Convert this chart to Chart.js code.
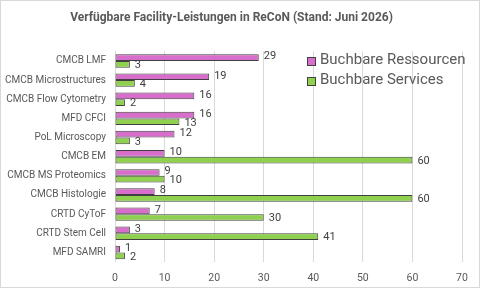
<!DOCTYPE html>
<html>
<head>
<meta charset="utf-8">
<script src="https://cdn.jsdelivr.net/npm/chart.js@4"></script>
<style>
  html, body { margin: 0; padding: 0; background: #fff; }
  #wrap { width: 478px; height: 286px; border: 1px solid #d9d9d9; position: relative; }
</style>
</head>
<body>
<div id="wrap"><canvas id="grafico" width="478" height="286"></canvas></div>
<script>
// Datos del grafico
const kategorien = ["CMCB LMF", "CMCB Microstructures", "CMCB Flow Cytometry", "MFD CFCI", "PoL Microscopy",
  "CMCB EM", "CMCB MS Proteomics", "CMCB Histologie", "CRTD CyToF", "CRTD Stem Cell", "MFD SAMRI"];
const ressourcen = [29, 19, 16, 16, 12, 10, 9, 8, 7, 3, 1];
const services = [3, 4, 2, 13, 3, 60, 10, 60, 30, 41, 2];
const serienNamen = ["Buchbare Ressourcen", "Buchbare Services"];
const xTicks = [0, 10, 20, 30, 40, 50, 60, 70];

const fuente = "Roboto, 'Liberation Sans', sans-serif";
const grisTexto = "#595959";

// etiquetas de valores al final de cada barra
const etiquetasPlugin = {
  id: "etiquetas",
  afterDatasetsDraw(chart) {
    const ctx = chart.ctx;
    ctx.save();
    ctx.font = "11px " + fuente;
    ctx.fillStyle = "#404040";
    ctx.textAlign = "left";
    ctx.textBaseline = "middle";
    chart.data.datasets.forEach((ds, i) => {
      chart.getDatasetMeta(i).data.forEach((bar, j) => {
        ctx.fillText(ds.data[j], bar.x + 5, bar.y + (i === 0 ? -1 : 1));
      });
    });
    ctx.restore();
  }
};

// leyenda dentro del area del grafico
const leyendaPlugin = {
  id: "leyenda",
  afterDraw(chart) {
    const ctx = chart.ctx;
    ctx.save();
    ctx.font = "15px " + fuente;
    ctx.textBaseline = "middle";
    chart.data.datasets.forEach((ds, i) => {
      const y = 59 + i * 20;
      ctx.fillStyle = ds.backgroundColor;
      ctx.strokeStyle = "#404040";
      ctx.lineWidth = 1;
      ctx.fillRect(306.5, y - 2.5, 8, 8);
      ctx.strokeRect(306.5, y - 2.5, 8, 8);
      ctx.fillStyle = grisTexto;
      ctx.fillText(serienNamen[i], 319, y);
    });
    ctx.restore();
  }
};

const contexto = document.getElementById("grafico").getContext("2d");
new Chart(contexto, {
  type: "bar",
  data: {
    labels: kategorien,
    datasets: [
      {
        label: serienNamen[0],
        data: ressourcen,
        backgroundColor: "#d86ecc",
        borderColor: "#404040",
        borderWidth: 1,
        borderSkipped: false,
        categoryPercentage: 0.7,
        barPercentage: 1.0
      },
      {
        label: serienNamen[1],
        data: services,
        backgroundColor: "#8fd14f",
        borderColor: "#404040",
        borderWidth: 1,
        borderSkipped: false,
        categoryPercentage: 0.7,
        barPercentage: 1.0
      }
    ]
  },
  options: {
    indexAxis: "y",
    responsive: false,
    animation: false,
    layout: { padding: { left: 0, right: 17, top: 0, bottom: 0 } },
    plugins: {
      legend: { display: false },
      tooltip: { enabled: false },
      title: {
        display: true,
        text: "Verfügbare Facility-Leistungen in ReCoN (Stand: Juni 2026)",
        color: grisTexto,
        font: { family: fuente, size: 12, weight: "bold" },
        padding: { top: 10, bottom: 26 }
      }
    },
    scales: {
      x: {
        min: 0,
        max: 70,
        afterBuildTicks(scale) { scale.ticks = xTicks.map(v => ({ value: v })); },
        afterFit(scale) { scale.height = 25; },
        grid: { color: "#d9d9d9", drawTicks: false },
        border: { display: false },
        ticks: { color: grisTexto, font: { family: fuente, size: 10.5 }, padding: 10 }
      },
      y: {
        afterFit(scale) { scale.width = 114; },
        grid: { display: false, drawTicks: false },
        border: { display: false },
        ticks: { color: grisTexto, font: { family: fuente, size: 10 }, padding: 9, autoSkip: false }
      }
    }
  },
  plugins: [etiquetasPlugin, leyendaPlugin]
});
</script>
</body>
</html>
